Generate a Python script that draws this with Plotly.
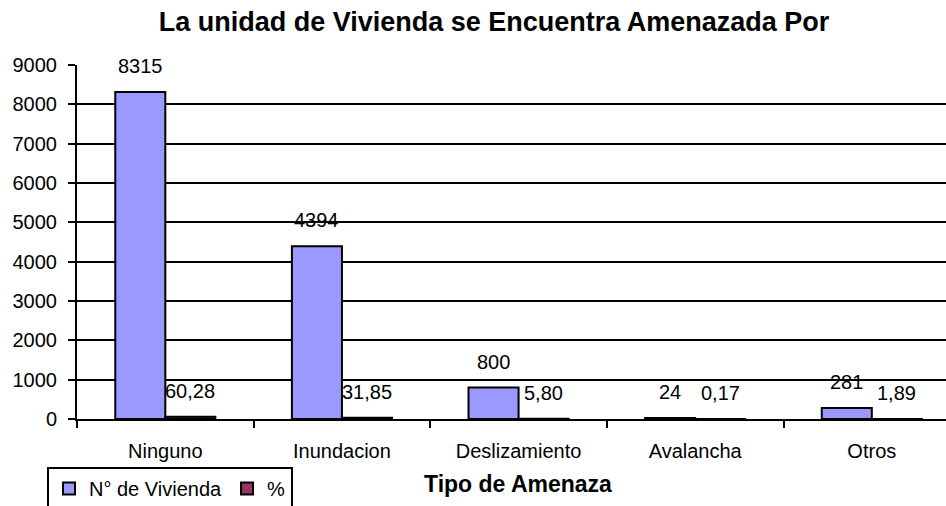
import plotly.graph_objects as go

categories = ["Ninguno", "Inundacion", "Deslizamiento", "Avalancha", "Otros"]
viviendas = [8315, 4394, 800, 24, 281]
porcentaje = [60.28, 31.85, 5.80, 0.17, 1.89]
viviendas_labels = ["8315", "4394", "800", "24", "281"]
porcentaje_labels = ["60,28", "31,85", "5,80", "0,17", "1,89"]
y_ticks = [0, 1000, 2000, 3000, 4000, 5000, 6000, 7000, 8000, 9000]

FONT = "Liberation Sans, Arial, sans-serif"

fig = go.Figure()
fig.add_trace(go.Bar(
    x=categories, y=viviendas, name="N° de Vivienda",
    marker=dict(color="#9999FF", line=dict(color="black", width=2)),
))
fig.add_trace(go.Bar(
    x=categories, y=porcentaje, name="%",
    marker=dict(color="#993366", line=dict(color="black", width=2)),
))

annotations = []
for c, v, t in zip(categories, viviendas, viviendas_labels):
    annotations.append(dict(x=c, y=v, xref="x", yref="y", text=t, showarrow=False,
                            xshift=-25, yshift=26, yanchor="middle",
                            font=dict(family=FONT, size=20, color="black")))
for c, v, t in zip(categories, porcentaje, porcentaje_labels):
    annotations.append(dict(x=c, y=v, xref="x", yref="y", text=t, showarrow=False,
                            xshift=25, yshift=26, yanchor="middle",
                            font=dict(family=FONT, size=20, color="black")))
annotations.append(dict(x=(518 - 77) / 869, y=(419 - 484) / 354, xref="paper", yref="paper",
                        text="<b>Tipo de Amenaza</b>", showarrow=False,
                        xanchor="center", yanchor="middle",
                        font=dict(family=FONT, size=23, color="black")))

fig.update_layout(
    width=946, height=506,
    margin=dict(l=77, r=0, t=65, b=87, autoexpand=False),
    paper_bgcolor="white", plot_bgcolor="white",
    barmode="group", bargap=0.4334, bargroupgap=0,
    font=dict(family=FONT, size=20, color="black"),
    title=dict(text="<b>La unidad de Vivienda se Encuentra Amenazada Por</b>",
               x=494 / 946, xref="container", xanchor="center",
               y=1 - 22 / 506, yref="container", yanchor="middle",
               font=dict(family=FONT, size=27, color="black")),
    annotations=annotations,
    showlegend=True,
    legend=dict(orientation="h", x=47 / 946, y=1 - 467 / 506,
                xref="container", yref="container",
                xanchor="left", yanchor="top",
                bordercolor="black", borderwidth=2, bgcolor="white",
                font=dict(family=FONT, size=20, color="black"),
                itemwidth=30, tracegroupgap=0),
)
fig.update_xaxes(
    type="category", range=[-0.5, 4.42], automargin=False,
    showline=True, linecolor="black", linewidth=2,
    ticks="outside", ticklen=7, tickcolor="black", tickwidth=2,
    tickson="boundaries", showgrid=False,
    tickfont=dict(family=FONT, size=20, color="black"),
    ticklabelstandoff=13,
)
fig.update_yaxes(
    range=[0, 9000], tickvals=y_ticks, automargin=False,
    showline=True, linecolor="black", linewidth=2,
    ticks="outside", ticklen=7, tickcolor="black", tickwidth=2,
    showgrid=True, gridcolor="black", gridwidth=2, zeroline=False,
    tickfont=dict(family=FONT, size=20, color="black"),
    ticklabelstandoff=7,
)

fig.write_html("out.html",
               config={"displayModeBar": False},
               post_script="document.body.style.margin='0';document.body.style.overflow='hidden';")
